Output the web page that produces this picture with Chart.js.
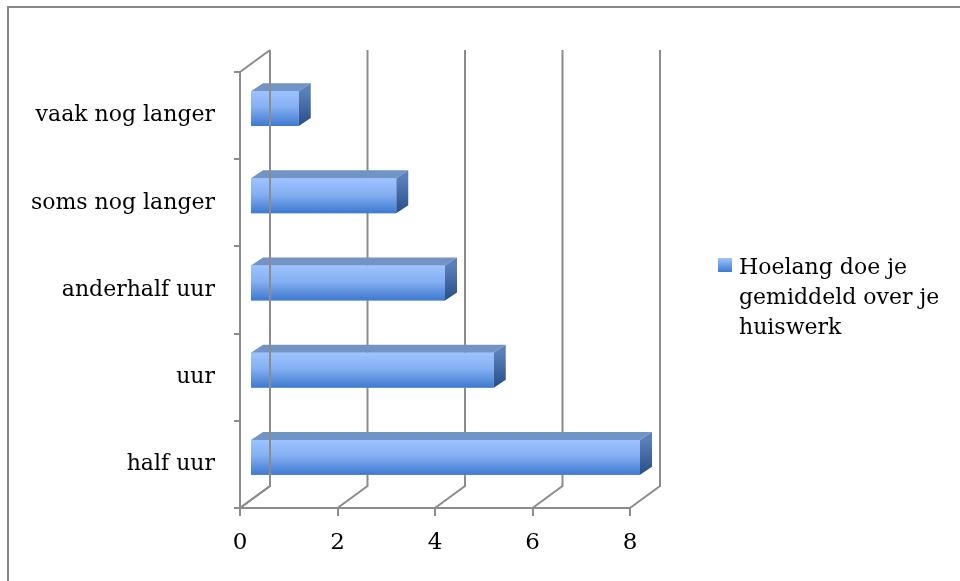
<!DOCTYPE html>
<html>
<head>
<meta charset="utf-8">
<script src="https://cdn.jsdelivr.net/npm/chart.js@4"></script>
<style>
  html, body { margin: 0; padding: 0; background: #fff; }
  #wrap { position: relative; width: 960px; height: 581px; }
</style>
</head>
<body>
<div id="wrap"><canvas id="hwChart" width="960" height="581"></canvas></div>
<script>
// data
const categories = ['vaak nog langer', 'soms nog langer', 'anderhalf uur', 'uur', 'half uur'];
const counts = [1, 3, 4, 5, 8];
const seriesName = 'Hoelang doe je gemiddeld over je huiswerk';
const legendLines = ['Hoelang doe je', 'gemiddeld over je', 'huiswerk'];
const xTicks = [0, 2, 4, 6, 8];

const lineGrey = '#8c8c8c';
const serif = "'DejaVu Serif', serif";
const wallDX = 30, wallDY = -22;   // depth of the back wall
const barDX = 10, barDY = -7;      // bar front sits a third of the way in
const sideDX = 12, sideDY = -8;    // bar depth

function frontGradient(ctx, top, bottom) {
    const g = ctx.createLinearGradient(0, top, 0, bottom);
    g.addColorStop(0, '#9dc3ff');
    g.addColorStop(0.45, '#86b0f2');
    g.addColorStop(1, '#3d79cf');
    return g;
}

// back wall, side wall and floor lines
const wallPlugin = {
    id: 'wall',
    beforeDatasetsDraw(chart) {
        const { ctx, chartArea: a, scales: { x } } = chart;
        ctx.save();
        ctx.strokeStyle = lineGrey;
        ctx.lineWidth = 2;
        ctx.beginPath();
        xTicks.forEach(v => {
            const px = x.getPixelForValue(v);
            ctx.moveTo(px, a.bottom);
            ctx.lineTo(px + wallDX, a.bottom + wallDY);
            ctx.lineTo(px + wallDX, a.top + wallDY);
        });
        ctx.moveTo(a.left, a.top);
        ctx.lineTo(a.left + wallDX, a.top + wallDY);
        ctx.stroke();
        ctx.restore();

        // bars are pushed into the depth
        ctx.save();
        ctx.translate(barDX, barDY);
    },
    afterDatasetsDraw(chart) {
        const ctx = chart.ctx;
        const meta = chart.getDatasetMeta(0);
        meta.data.forEach(bar => {
            const p = bar.getProps(['x', 'y', 'base', 'height'], true);
            const top = p.y - p.height / 2, bottom = p.y + p.height / 2;
            // soft shadow on the wall
            ctx.save();
            ctx.shadowColor = 'rgba(0,0,0,0.35)';
            ctx.shadowBlur = 6;
            ctx.fillStyle = 'rgba(200,200,200,0.6)';
            ctx.fillRect(p.base + 4, top + 2, 2, p.height - 4);
            ctx.restore();
            // top face
            ctx.fillStyle = '#7293c6';
            ctx.beginPath();
            ctx.moveTo(p.base, top);
            ctx.lineTo(p.x, top);
            ctx.lineTo(p.x + sideDX, top + sideDY);
            ctx.lineTo(p.base + sideDX, top + sideDY);
            ctx.closePath();
            ctx.fill();
            // side face
            const sg = ctx.createLinearGradient(0, top, 0, bottom);
            sg.addColorStop(0, '#5b7fb9');
            sg.addColorStop(1, '#274d88');
            ctx.fillStyle = sg;
            ctx.beginPath();
            ctx.moveTo(p.x, top);
            ctx.lineTo(p.x + sideDX, top + sideDY);
            ctx.lineTo(p.x + sideDX, bottom + sideDY);
            ctx.lineTo(p.x, bottom);
            ctx.closePath();
            ctx.fill();
            // front face again on top of the shadow
            ctx.fillStyle = frontGradient(ctx, top, bottom);
            ctx.fillRect(p.base, top, p.x - p.base, p.height);
        });
        ctx.restore();

        // bottom-left floor diagonal
        const a = chart.chartArea;
        ctx.save();
        ctx.strokeStyle = lineGrey;
        ctx.lineWidth = 2;
        ctx.beginPath();
        ctx.moveTo(a.left, a.bottom);
        ctx.lineTo(a.left + wallDX, a.bottom + wallDY);
        ctx.lineTo(a.left + wallDX, a.top + wallDY);
        ctx.stroke();
        ctx.restore();
    }
};

// legend drawn on the right with wrapped text, plus the outer frame
const sidePlugin = {
    id: 'side',
    afterDraw(chart) {
        const ctx = chart.ctx;
        ctx.save();
        const g = ctx.createLinearGradient(0, 258, 0, 272);
        g.addColorStop(0, '#9dc3ff');
        g.addColorStop(1, '#3d79cf');
        ctx.fillStyle = g;
        ctx.fillRect(718, 258, 14, 14);
        ctx.fillStyle = '#000';
        ctx.font = '22px ' + serif;
        ctx.textBaseline = 'middle';
        legendLines.forEach((t, i) => ctx.fillText(t, 739, 268 + i * 30));
        ctx.strokeStyle = '#888';
        ctx.lineWidth = 2;
        ctx.beginPath();
        ctx.moveTo(8, 600);
        ctx.lineTo(8, 7);
        ctx.lineTo(980, 7);
        ctx.stroke();
        ctx.restore();
    }
};

new Chart(document.getElementById('hwChart').getContext('2d'), {
    type: 'bar',
    data: {
        labels: categories,
        datasets: [{
            label: seriesName,
            data: counts,
            backgroundColor: '#86b0f2',
            borderWidth: 0,
            barPercentage: 0.5,
            categoryPercentage: 0.8
        }]
    },
    options: {
        indexAxis: 'y',
        responsive: false,
        animation: false,
        layout: { padding: { top: 72, right: 330, left: 0, bottom: 0 } },
        scales: {
            x: {
                min: 0, max: 8,
                afterBuildTicks: s => { s.ticks = xTicks.map(v => ({ value: v })); },
                afterFit: s => { s.height = 73; },
                grid: { drawOnChartArea: false, color: lineGrey, lineWidth: 2, tickLength: 8 },
                border: { color: lineGrey, width: 2 },
                ticks: { color: '#000', padding: 13, font: { family: serif, size: 23 } }
            },
            y: {
                afterFit: s => { s.width = 240; },
                grid: { offset: true, drawOnChartArea: false, color: lineGrey, lineWidth: 2, tickLength: 6 },
                border: { color: lineGrey, width: 2 },
                ticks: { color: '#000', padding: 19, font: { family: serif, size: 22 } }
            }
        },
        plugins: {
            legend: { display: false },
            tooltip: { enabled: false }
        }
    },
    plugins: [wallPlugin, sidePlugin]
});
</script>
</body>
</html>
